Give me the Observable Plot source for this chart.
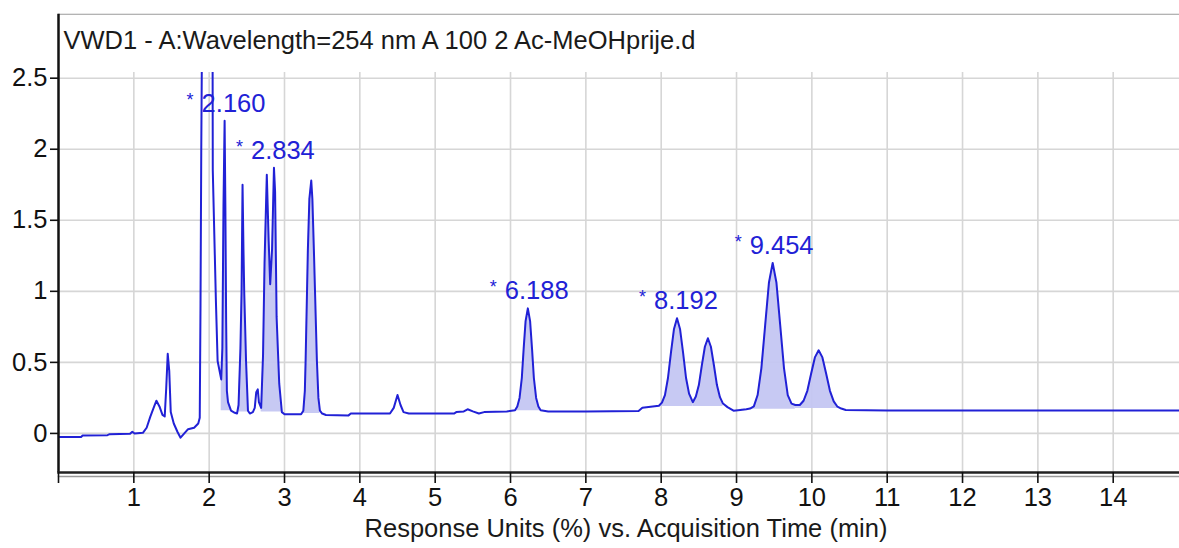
<!DOCTYPE html>
<html>
<head>
<meta charset="utf-8">
<script src="https://cdn.jsdelivr.net/npm/d3@7"></script>
<script src="https://cdn.jsdelivr.net/npm/@observablehq/plot@0.6"></script>
<style>
  html, body { margin: 0; padding: 0; background: #fff; }
  #chart svg { display: block; }
</style>
</head>
<body>
<div id="chart"></div>
<script>
// ---- data ----
const titleText = "VWD1 - A:Wavelength=254 nm A 100 2 Ac-MeOHprije.d";
const xLabelText = "Response Units (%) vs. Acquisition Time (min)";

const times = [
  0.00, 0.30, 0.32, 0.65, 0.68, 0.95, 0.98, 1.01, 1.12, 1.17, 1.22, 1.27, 1.30, 1.34, 1.38, 1.41,
  1.43, 1.45, 1.47, 1.49, 1.53, 1.58, 1.62, 1.67, 1.72, 1.80, 1.855, 1.875, 1.885, 1.895, 1.905,
  1.98, 2.045, 2.048, 2.089, 2.112, 2.16, 2.175, 2.19, 2.205, 2.215, 2.225, 2.235, 2.25, 2.29,
  2.34, 2.37, 2.39, 2.415, 2.43, 2.443, 2.455, 2.465, 2.49, 2.515, 2.54, 2.58, 2.605, 2.625,
  2.645, 2.66, 2.69, 2.715, 2.735, 2.765, 2.79, 2.81, 2.835, 2.86, 2.875, 2.895, 2.93, 2.965,
  3.00, 3.22, 3.25, 3.27, 3.28, 3.31, 3.33, 3.355, 3.37, 3.39, 3.43, 3.45, 3.47, 3.50, 3.55,
  3.85, 3.88, 4.40, 4.45, 4.50, 4.54, 4.58, 4.65, 5.25, 5.28, 5.38, 5.43, 5.50, 5.58, 5.65,
  5.95, 6.06, 6.09, 6.12, 6.15, 6.175, 6.20, 6.23, 6.26, 6.285, 6.31, 6.34, 6.37, 6.40, 6.50,
  7.00, 7.70, 7.75, 7.97, 8.01, 8.05, 8.09, 8.13, 8.17, 8.21, 8.25, 8.29, 8.33, 8.37, 8.42,
  8.46, 8.50, 8.54, 8.58, 8.62, 8.66, 8.70, 8.74, 8.78, 8.82, 8.88, 8.96, 9.05, 9.13, 9.18,
  9.23, 9.28, 9.33, 9.38, 9.43, 9.48, 9.53, 9.58, 9.63, 9.68, 9.73, 9.78, 9.84, 9.89, 9.94,
  9.99, 10.04, 10.09, 10.14, 10.19, 10.24, 10.29, 10.34, 10.39, 10.45, 11.00, 14.88
];
const signal = [
  -0.025, -0.025, -0.015, -0.012, -0.005, -0.003, 0.012, 0.0, 0.004, 0.04, 0.12, 0.19, 0.23, 0.19, 0.13, 0.12,
  0.32, 0.56, 0.44, 0.15, 0.07, 0.01, -0.03, 0.0, 0.03, 0.04, 0.07, 0.11, 0.9, 2.0, 2.8,
  3.5, 2.8, 1.85, 0.94, 0.51, 0.38, 0.6, 1.6, 2.2, 1.6, 0.8, 0.3, 0.22, 0.16,
  0.145, 0.14, 0.2, 0.6, 1.0, 1.75, 1.3, 1.0, 0.5, 0.16, 0.14, 0.15, 0.18, 0.29,
  0.31, 0.22, 0.18, 0.55, 1.2, 1.82, 1.35, 1.05, 1.3, 1.87, 1.7, 0.82, 0.35, 0.15,
  0.135, 0.135, 0.16, 0.3, 0.51, 1.29, 1.65, 1.78, 1.65, 1.29, 0.51, 0.25, 0.16, 0.14, 0.13,
  0.127, 0.14, 0.14, 0.18, 0.27, 0.2, 0.15, 0.14, 0.14, 0.15, 0.155, 0.17, 0.155, 0.14, 0.15,
  0.155, 0.163, 0.19, 0.25, 0.39, 0.60, 0.79, 0.88, 0.79, 0.60, 0.39, 0.25, 0.19, 0.163, 0.155,
  0.155, 0.158, 0.18, 0.195, 0.217, 0.27, 0.39, 0.57, 0.735, 0.81, 0.735, 0.57, 0.39, 0.28, 0.22,
  0.26, 0.34, 0.48, 0.61, 0.67, 0.61, 0.48, 0.34, 0.255, 0.21, 0.185, 0.16, 0.165, 0.17, 0.175,
  0.19, 0.27, 0.46, 0.76, 1.06, 1.20, 1.06, 0.76, 0.46, 0.27, 0.21, 0.20, 0.20, 0.23, 0.30,
  0.42, 0.535, 0.585, 0.535, 0.42, 0.30, 0.226, 0.188, 0.175, 0.165, 0.162, 0.162
];

// integrated (shaded) peaks: start time, end time, baseline level
const peakStart = [2.16, 2.39, 2.69, 3.25, 6.06, 7.97, 8.42, 9.05, 9.78];
const peakEnd   = [2.29, 2.515, 2.965, 3.47, 6.40, 8.42, 8.85, 9.78, 10.40];
const peakBase  = [0.16, 0.15, 0.15, 0.14, 0.16, 0.19, 0.19, 0.17, 0.175];

// labelled peaks
const labelText  = ["2.160", "2.834", "6.188", "8.192", "9.454"];
const labelTime  = [2.205, 2.86, 6.23, 8.21, 9.48];
const labelValue = [2.2, 1.87, 0.88, 0.81, 1.2];

const xTicks = [0, 1, 2, 3, 4, 5, 6, 7, 8, 9, 10, 11, 12, 13, 14];
const yTicks = [0, 0.5, 1, 1.5, 2, 2.5];
const xGrid = [1, 2, 3, 4, 5, 6, 7, 8, 9, 10, 11, 12, 13, 14];

// ---- build tables ----
const xMax = 14.88;
const yBottom = -0.275, yDataTop = 2.54, yBoxTop = 2.95;
const trace = times.map((t, i) => ({t, v: signal[i]}));
const areaRows = peakStart.flatMap((s, k) =>
  trace.filter(d => d.t >= s && d.t <= peakEnd[k]).map(d => ({...d, base: peakBase[k], peak: k})));
const labels = labelText.map((text, i) => ({text, t: labelTime[i], v: labelValue[i]}));

const blue = "#2121d6";
const font = '"Liberation Sans", Arial, Helvetica, sans-serif';

const chart = Plot.plot({
  width: 1179,
  height: 548,
  marginLeft: 58,
  marginRight: 0,
  marginTop: 72,
  marginBottom: 76,
  style: {fontFamily: font, fontSize: "25.5px", color: "#111", background: "#fff", overflow: "visible"},
  x: {domain: [0, xMax]},
  y: {domain: [yBottom, yDataTop]},
  marks: [
    Plot.ruleY(yTicks, {stroke: "#d6d6d6", strokeWidth: 1.6}),
    Plot.ruleX(xGrid, {stroke: "#d6d6d6", strokeWidth: 1.6}),
    Plot.areaY(areaRows, {x: "t", y1: "base", y2: "v", z: "peak", fill: "#c4c6f2", fillOpacity: 0.95, clip: true}),
    Plot.line(trace, {x: "t", y: "v", stroke: blue, strokeWidth: 2, clip: true}),
    // outer box: top border above the title band, left axis line spanning the whole box
    Plot.ruleY([yBoxTop], {x1: 0, x2: xMax, stroke: "#9a9a9a", strokeWidth: 1.2}),
    Plot.ruleX([0], {y1: yBottom, y2: yBoxTop, stroke: "#111", strokeWidth: 2.5}),
    Plot.frame({anchor: "bottom", stroke: "#999", strokeWidth: 1.5, dy: 4}),
    Plot.frame({anchor: "bottom", stroke: "#222", strokeWidth: 2.5}),
    Plot.axisY({ticks: yTicks, tickFormat: d => String(d), tickSize: 8, tickPadding: 3,
      stroke: "#111", strokeWidth: 1.6, fill: "#111", label: null}),
    Plot.axisX({ticks: xTicks, tickFormat: d => d === 0 ? "" : String(d), tickSize: 11, tickPadding: 4,
      stroke: "#111", strokeWidth: 1.6, fill: "#111", label: null}),
    Plot.text([titleText], {x: 0, y: yBoxTop, dx: 5, dy: 17, textAnchor: "start", lineAnchor: "top", fill: "#1a1a1a"}),
    Plot.text([xLabelText], {frameAnchor: "bottom", dx: 7, dy: 64, lineAnchor: "bottom", fill: "#1a1a1a"}),
    Plot.text(labels, {x: "t", y: "v", text: "text", textAnchor: "start", lineAnchor: "bottom", dx: -23, dy: -9, fill: blue}),
    Plot.text(labels, {x: "t", y: "v", text: () => "*", textAnchor: "start", lineAnchor: "bottom", dx: -38, dy: -15, fontSize: 18, fill: blue})
  ]
});
document.getElementById("chart").appendChild(chart);
</script>
</body>
</html>
